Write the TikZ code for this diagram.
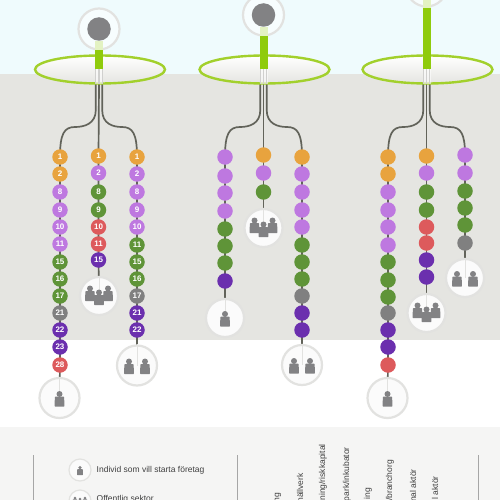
\documentclass[tikz,border=0pt]{standalone}
\usepackage{fontspec}
\setmainfont{Liberation Sans}
\usetikzlibrary{shapes.geometric}
\definecolor{skyband}{HTML}{EFFBFD}
\definecolor{greyband}{HTML}{E5E5E1}
\definecolor{legendband}{HTML}{F5F5F4}
\definecolor{wirec}{HTML}{62635A}
\definecolor{ringc}{HTML}{E2E2E0}
\definecolor{iconc}{HTML}{828284}
\definecolor{limec}{HTML}{8FCB0C}
\definecolor{ovalc}{HTML}{A2D02C}
\definecolor{ora}{HTML}{E8A33E}
\definecolor{pur}{HTML}{BE78E0}
\definecolor{grn}{HTML}{5F9438}
\definecolor{rdd}{HTML}{DD5A5C}
\definecolor{dpu}{HTML}{6B2FAE}
\definecolor{gry}{HTML}{808080}
\pgfdeclarelayer{bands}
\pgfdeclarelayer{wires}
\pgfsetlayers{bands,wires,main}
\tikzset{
  bead/.style={circle,inner sep=0pt,minimum size=15.5pt,text=white,font=\bfseries\fontsize{8}{9}\selectfont},
  wire/.style={draw=wirec,line width=1.7pt},
  endring/.style={circle,draw=ringc,line width=2.2pt,fill=white!60!legendband,inner sep=0pt,minimum size=40pt},
  groupring/.style={endring,minimum size=38pt},
  topring/.style={circle,draw=ringc,line width=2.2pt,inner sep=0pt,minimum size=41pt,fill=white!50!skyband},
  topdot/.style={circle,fill=iconc,inner sep=0pt,minimum size=23.5pt},
  oval/.style={ellipse,draw=ovalc,line width=2.4pt,inner sep=0pt,minimum width=130pt,minimum height=28pt,top color=white,bottom color=greyband},
  person/.pic={
    \fill[iconc] (0,-4) circle (3);
    \fill[iconc,rounded corners=.6pt] (-4.6,-1.4)--(4.6,-1.4)--(5,8.6)--(-5,8.6)--cycle;
  },
  legendtext/.style={font=\fontsize{8.5}{10}\selectfont,text=black!75,inner sep=0pt},
  sidetext/.style={legendtext,rotate=90,anchor=east},
  legendrule/.style={draw=black!35,line width=.7pt},
  fadeline/.style={draw=ringc,line width=1pt}
}
% id, hub x, top circle y, bar top y
\newcommand{\hubcol}[4]{
  \node[oval] (#1oval) at (#2+1,69.5) {};
  \node[topring] (#1top) at (#2,#3) {};
  \node[topdot] (#1dot) at (#2,#3) {};
  \fill[limec] (#2-4,#4) rectangle (#2+4,69);
  \fill[white,opacity=.55] (#2-4,69) rectangle (#2+4,84);
  \foreach \d in {-3.2,0,3.2}{\draw[wirec!30,line width=1.2pt] (#2+\d,69) -- (#2+\d,84);}
  \fill[limec!25!white] (#2-4,#3+12) rectangle (#2+4,#4);
  \coordinate (#1l) at (#2-3.2,84);
  \coordinate (#1m) at (#2,84);
  \coordinate (#1r) at (#2+3.2,84);
}
% id, left x, right x
\newcommand{\branches}[3]{
  \begin{pgfonlayer}{wires}
  \draw[wire] (#1l) -- ++(0,26) .. controls ++(0,14) and (#2+24,127) .. (#2+15,127) ..
     controls (#2+4,127) and (#2,134) .. (#1a1.center);
  \draw[wire] (#1m) -- (#1b1.center);
  \draw[wire] (#1r) -- ++(0,26) .. controls ++(0,14) and (#3-24,127) .. (#3-15,127) ..
     controls (#3-4,127) and (#3,134) .. (#1c1.center);
  \end{pgfonlayer}
}
\newcommand{\beads}[3]{
  \foreach \y/\c/\t [count=\i] in {#3}{
    \node[bead,fill=\c] (#1\i) at (#2,\y) {\t};
  }
}
% name of ring: single, double and group icons
\newcommand{\oneicon}[1]{\pic at (#1.center) {person};}
\newcommand{\twoicon}[1]{
  \pic at ([xshift=-8pt]#1.center) {person};
  \pic at ([xshift=8pt]#1.center) {person};
}
\newcommand{\groupicon}[1]{
  \pic at ([xshift=-9pt,yshift=3.5pt]#1.center) {person};
  \pic at ([xshift=9pt,yshift=3.5pt]#1.center) {person};
  \pic at ([yshift=-.5pt]#1.center) {person};
}
\begin{document}
\begin{tikzpicture}[x=1pt,y=-1pt]
\useasboundingbox (0,0) rectangle (500,500);
\clip (0,0) rectangle (500,500);
\begin{pgfonlayer}{bands}
\fill[skyband] (0,0) rectangle (500,74);
\fill[greyband] (0,74) rectangle (500,340);
\fill[white] (0,340) rectangle (500,427);
\fill[legendband] (0,427) rectangle (500,500);
\end{pgfonlayer}

% ---------- column 1
\hubcol{A}{99}{29}{50}
\beads{Aa}{60}{157/ora/1,174/ora/2,192/pur/8,210/pur/9,227/pur/10,244/pur/11,262/grn/15,279/grn/16,296/grn/17,313/gry/21,330/dpu/22,347/dpu/23,365/rdd/28}
\beads{Ab}{98.5}{156/ora/1,173/pur/2,192/grn/8,210/grn/9,227/rdd/10,244/rdd/11,260/dpu/15}
\beads{Ac}{137}{157/ora/1,174/pur/2,192/pur/8,210/pur/9,227/pur/10,245/grn/11,262/grn/15,279/grn/16,296/gry/17,313/dpu/21,330/dpu/22}
\branches{A}{60}{137}
\node[endring] (Aae) at (59.5,398) {};
\node[groupring] (Abe) at (99,296) {};
\node[endring] (Ace) at (137,365.5) {};
\begin{pgfonlayer}{wires}
\draw[wire] (Aa1.center) -- (Aa13.center) -- (Aae.center);
\draw[wire] (Ab1.center) -- (Ab7.center) -- (Abe.center);
\draw[wire] (Ac1.center) -- (Ac11.center) -- (Ace.center);
\end{pgfonlayer}
\draw[fadeline] (Aae.north) -- (Aae.center);
\draw[fadeline] (Abe.north) -- (Abe.center);
\draw[fadeline] (Ace.north) -- (Ace.center);
\oneicon{Aae}
\twoicon{Ace}
\groupicon{Abe}

% ---------- column 2
\hubcol{B}{263.5}{15}{36.5}
\beads{Ba}{225}{157/pur/,176/pur/,193/pur/,211/pur/,229/grn/,246/grn/,263/grn/,281/dpu/}
\beads{Bb}{263.5}{155/ora/,173/pur/,192/grn/}
\beads{Bc}{302}{157/ora/,174/pur/,192/pur/,210/pur/,227/pur/,245/grn/,262/grn/,279/grn/,296/gry/,313/dpu/,330/dpu/}
\branches{B}{225}{302}
\node[groupring] (Bae) at (225,318) {};
\node[groupring] (Bbe) at (263.5,228) {};
\node[endring] (Bce) at (302,365) {};
\begin{pgfonlayer}{wires}
\draw[wire] (Ba1.center) -- (Ba8.center) -- (Bae.center);
\draw[wire] (Bb1.center) -- (Bb3.center) -- (Bbe.center);
\draw[wire] (Bc1.center) -- (Bc11.center) -- (Bce.center);
\end{pgfonlayer}
\draw[fadeline] (Bae.north) -- (Bae.center);
\draw[fadeline] (Bbe.north) -- (Bbe.center);
\draw[fadeline] (Bce.north) -- (Bce.center);
\oneicon{Bae}
\twoicon{Bce}
\groupicon{Bbe}

% ---------- column 3
\hubcol{C}{426.5}{-14}{8}
\beads{Ca}{388}{157/ora/,174/ora/,192/pur/,210/pur/,227/pur/,245/pur/,262/grn/,280/grn/,297/grn/,313/gry/,330/dpu/,347/dpu/,365/rdd/}
\beads{Cb}{426.5}{156/ora/,173/pur/,192/grn/,210/grn/,227/rdd/,243/rdd/,260/dpu/,277/dpu/}
\beads{Cc}{465}{155/pur/,173/pur/,191/grn/,208/grn/,225/grn/,243/gry/}
\branches{C}{388}{465}
\node[endring] (Cae) at (387.5,398) {};
\node[groupring] (Cbe) at (426.5,313) {};
\node[groupring] (Cce) at (465,278) {};
\begin{pgfonlayer}{wires}
\draw[wire] (Ca1.center) -- (Ca13.center) -- (Cae.center);
\draw[wire] (Cb1.center) -- (Cb8.center) -- (Cbe.center);
\draw[wire] (Cc1.center) -- (Cc6.center) -- (Cce.center);
\end{pgfonlayer}
\draw[fadeline] (Cae.north) -- (Cae.center);
\draw[fadeline] (Cbe.north) -- (Cbe.center);
\draw[fadeline] (Cce.north) -- (Cce.center);
\oneicon{Cae}
\twoicon{Cce}
\groupicon{Cbe}

% ---------- legend
\draw[legendrule] (33,455) -- (33,500);
\draw[legendrule] (237,455) -- (237,500);
\draw[legendrule] (478,455) -- (478,500);
\node[circle,draw=ringc,line width=1.2pt,fill=white!60!legendband,inner sep=0pt,minimum size=22pt] (L1) at (80,470) {};
\node[circle,draw=ringc,line width=1.2pt,fill=white!60!legendband,inner sep=0pt,minimum size=22pt] (L2) at (80,501) {};
\pic[scale=.6] at (L1.center) {person};
\pic[scale=.5] at ([xshift=-5pt,yshift=1pt]L2.center) {person};
\pic[scale=.5] at ([xshift=5pt,yshift=1pt]L2.center) {person};
\pic[scale=.5] at (L2.center) {person};
\node[legendtext,anchor=west] (T1) at (96.5,470) {Individ som vill starta företag};
\node[legendtext,anchor=west] (T2) at (96.5,499.5) {Offentlig sektor};
\node[sidetext] (S1) at (278,493) {ng};
\node[sidetext] (S2) at (300,473) {nällverk};
\node[sidetext] (S3) at (323,444) {ening/riskkapital};
\node[sidetext] (S4) at (347,447) {park/inkubator};
\node[sidetext] (S5) at (368,488) {ing};
\node[sidetext] (S6) at (390,460) {/branchorg};
\node[sidetext] (S7) at (413,469) {nal aktör};
\node[sidetext] (S8) at (435,476) {l aktör};
\end{tikzpicture}
\end{document}
